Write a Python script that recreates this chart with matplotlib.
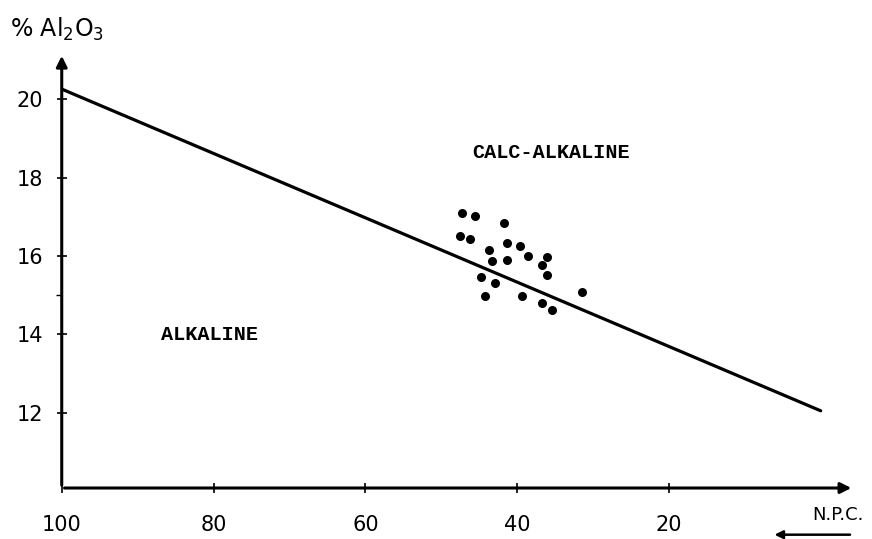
import matplotlib
matplotlib.use('Agg')
import matplotlib.pyplot as plt

# boundary line (N.P.C. vs % Al2O3)
line_npc = [100, 0]
line_al = [20.26, 12.05]

# sample points
npc = [47.2, 45.6, 41.7, 47.5, 46.2, 41.4, 39.6, 43.7, 38.6, 43.3, 41.4,
       36.0, 36.7, 36.0, 44.8, 42.9, 44.2, 39.4, 36.7, 35.4, 31.4]
al2o3 = [17.10, 17.02, 16.83, 16.51, 16.44, 16.34, 16.26, 16.16, 16.00, 15.88, 15.89,
         15.97, 15.76, 15.52, 15.46, 15.31, 14.99, 14.99, 14.81, 14.62, 15.07]

xticks = [100, 80, 60, 40, 20]
yticks = [12, 14, 16, 18, 20]

fig = plt.figure(figsize=(8.72, 5.39), dpi=100)
ax = fig.add_axes([0.0708, 0.0946, 0.9087, 0.807])
ax.set_xlim(100, -4.4)
ax.set_ylim(10.08, 21.18)
for s in ax.spines.values():
    s.set_visible(False)

# axes with arrow heads
ax.annotate('', xy=(1, 0), xytext=(0, 0), xycoords='axes fraction',
            arrowprops=dict(arrowstyle='-|>', lw=2.2, color='black', mutation_scale=16))
ax.annotate('', xy=(0, 1), xytext=(0, 0), xycoords='axes fraction',
            arrowprops=dict(arrowstyle='-|>', lw=2.2, color='black', mutation_scale=16))

ax.plot(line_npc, line_al, color='black', lw=2.3, solid_capstyle='round')
ax.scatter(npc, al2o3, s=30, color='black', zorder=3)

ax.set_xticks(xticks)
ax.set_yticks(yticks)
ax.set_yticks([15], minor=True)
ax.tick_params(axis='both', direction='inout', length=7, width=1.2, labelsize=15)
ax.tick_params(axis='x', pad=16)
ax.tick_params(axis='y', pad=10)
ax.tick_params(axis='y', which='minor', direction='out', length=4, width=1)

mono = dict(family='Liberation Mono', fontweight='bold', fontsize=14.5)
ax.text(80.5, 14.0, 'ALKALINE', ha='center', va='center', **mono)
ax.text(35.5, 18.63, 'CALC-ALKALINE', ha='center', va='center', **mono)

fig.text(0.011, 0.945, '% Al$_2$O$_3$', fontsize=17, ha='left', va='center')
fig.text(0.961, 0.045, 'N.P.C.', fontsize=13, ha='center', va='center')
fig.patches.append(matplotlib.patches.FancyArrowPatch(
    (0.978, 0.008), (0.885, 0.008), transform=fig.transFigure,
    arrowstyle='-|>', mutation_scale=12, lw=1.8, color='black'))

fig.savefig('out.png', dpi=100)
